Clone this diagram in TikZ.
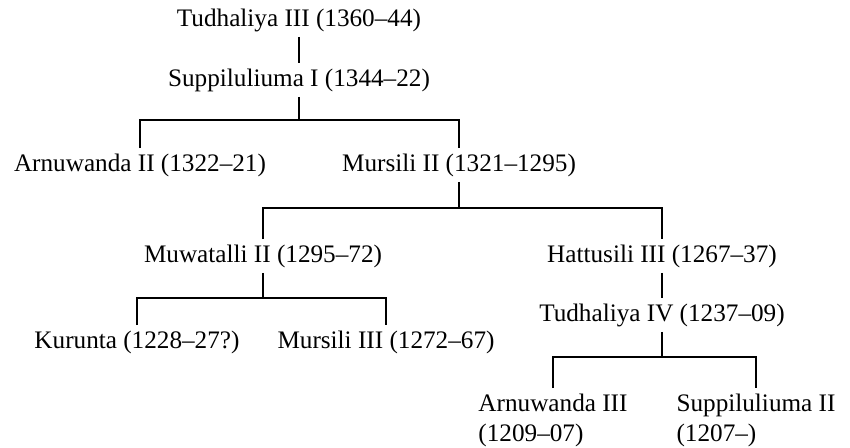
\documentclass[tikz,border=0pt]{standalone}
\usepackage{fontspec}
\setmainfont{Liberation Serif}
\usetikzlibrary{calc}
\tikzset{king/.style={inner sep=2.5pt, font=\fontsize{12.6}{15}\selectfont},
         line/.style={line width=0.7pt}}

\begin{document}
\begin{tikzpicture}[x=0.5pt, y=-0.5pt]
        \useasboundingbox (0,0) rectangle (850,447);

        \node[king] (tud3) at (299,20) {Tudhaliya III (1360--44)};
        \node[king] (sup1) at (299,80) {Suppiluliuma I (1344--22)};
        \node[king] (arn2) at (140,165) {Arnuwanda II (1322--21)};
        \node[king] (mur2) at (459,165) {Mursili II (1321--1295)};
        \node[king] (muw2) at (263,256) {Muwatalli II (1295--72)};
        \node[king] (hat3) at (662,256) {Hattusili III (1267--37)};
        \node[king] (kur)  at (137,342) {Kurunta (1228--27?)};
        \node[king] (mur3) at (386,342) {Mursili III (1272--67)};
        \node[king] (tud4) at (662,315) {Tudhaliya IV (1237--09)};
        \node[king, align=left] (arn3) at (553,420) {Arnuwanda III\\(1209--07)};
        \node[king, align=left] (sup2) at (756,420) {Suppiluliuma II\\(1207--)};
        %
        \coordinate (A) at (299,120);
        \coordinate (B) at (459,208);
        \coordinate (C) at (263,298);
        \coordinate (D) at (662,357);
        %
        \draw[line] (tud3) -- (sup1);
        \draw[line] (sup1) -- (A);
        \draw[line] (arn2) |- (A) -| (mur2);
        \draw[line] (mur2) -- (B);
        \draw[line] (muw2) |- (B) -| (hat3);
        \draw[line] (muw2) -- (C);
        \draw[line] (kur) |- (C) -| (mur3);
        \draw[line] (hat3) -- (tud4);
        \draw[line] (tud4) -- (D);
        \draw[line] (arn3) |- (D) -| (sup2);
    \end{tikzpicture}
\end{document}
